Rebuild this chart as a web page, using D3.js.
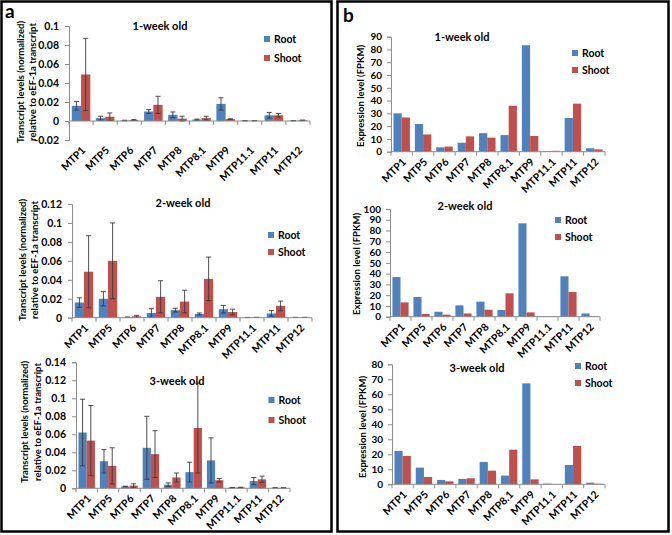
<!DOCTYPE html>
<html><head><meta charset="utf-8">
<script src="https://cdn.jsdelivr.net/npm/d3@7"></script>
<style>
body{margin:0;background:#fff}
svg{display:block}
text{font-family:Lato,"Liberation Sans",sans-serif}
</style>
</head><body>
<svg id="c" width="672" height="535"></svg>
<script>
// ---------- data ----------
const categories = ["MTP1","MTP5","MTP6","MTP7","MTP8","MTP8.1","MTP9","MTP11.1","MTP11","MTP12"];
const seriesNames = ["Root","Shoot"];
const ageTitles = ["1-week old","2-week old","3-week old"];

// (a) qRT-PCR transcript levels
const qpcrRoot1     = [0.016,0.003,0.0005,0.010,0.0065,0.0015,0.018,0.0003,0.006,0.0003];
const qpcrRootErr1  = [0.0045,0.002,0.0003,0.002,0.003,0.0005,0.0065,0.0002,0.003,0.0002];
const qpcrShoot1    = [0.049,0.0045,0.001,0.017,0.0025,0.003,0.002,0.0003,0.006,0.0007];
const qpcrShootErr1 = [0.038,0.004,0.0005,0.009,0.0025,0.002,0.0003,0.0002,0.002,0.0003];

const qpcrRoot2     = [0.016,0.020,0.0005,0.005,0.008,0.004,0.009,0.0002,0.0045,0.0003];
const qpcrRootErr2  = [0.005,0.0075,0.0002,0.0045,0.002,0.001,0.004,0.0001,0.003,0.0001];
const qpcrShoot2    = [0.0485,0.060,0.0015,0.022,0.017,0.041,0.006,0.0003,0.0125,0.0003];
const qpcrShootErr2 = [0.038,0.040,0.001,0.017,0.012,0.023,0.003,0.0001,0.005,0.0001];

const qpcrRoot3     = [0.062,0.030,0.002,0.045,0.004,0.018,0.031,0.0008,0.008,0.0005];
const qpcrRootErr3  = [0.037,0.013,0.0003,0.035,0.002,0.011,0.025,0.0002,0.004,0.0001];
const qpcrShoot3    = [0.053,0.025,0.003,0.038,0.012,0.067,0.009,0.001,0.010,0.0005];
const qpcrShootErr3 = [0.039,0.020,0.002,0.026,0.005,0.050,0.002,0.0002,0.0035,0.0001];

// (b) RNA-seq expression (FPKM)
const fpkmRoot1  = [30,21.7,3.4,7,14.5,13,83.3,0.5,26.4,2.7];
const fpkmShoot1 = [26.8,13.5,4,12,11,36,12.3,0.7,37.6,1.8];
const fpkmRoot2  = [36.8,18.3,4.6,10.5,14,6.2,86.7,0.5,37.5,3];
const fpkmShoot2 = [13.3,2.5,1.9,3,6.5,21.7,4,0.5,23,0.6];
const fpkmRoot3  = [22.2,11.1,2.9,3.6,14.9,5.8,67.3,0.5,12.9,1.1];
const fpkmShoot3 = [18.9,4.9,2,4,9.1,23.1,3.3,0.1,25.6,0.4];

// tick values
const ticksA1 = [-0.02,0,0.02,0.04,0.06,0.08,0.1];
const ticksA2 = [0,0.02,0.04,0.06,0.08,0.1,0.12];
const ticksA3 = [0,0.02,0.04,0.06,0.08,0.1,0.12,0.14];
const ticksB1 = [0,10,20,30,40,50,60,70,80,90];
const ticksB2 = [0,10,20,30,40,50,60,70,80,90,100];
const ticksB3 = [0,10,20,30,40,50,60,70,80];

const yLabelA = ["Transcript  levels (normalized)","relative to eEF-1a transcript"];
const yLabelB = ["Expression level (FPKM)"];
const panelLetters = ["a","b"];

// ---------- styling / layout ----------
const colors = ["#4F81BD","#C0504D"];
const svg = d3.select("#c");

// frames
svg.append("rect").attr("x",1.5).attr("y",1.5).attr("width",330).attr("height",530)
  .attr("fill","none").attr("stroke","#000").attr("stroke-width",2.5);
svg.append("rect").attr("x",337.5).attr("y",1.5).attr("width",331).attr("height",530)
  .attr("fill","none").attr("stroke","#000").attr("stroke-width",2.5);
svg.append("text").attr("x",5).attr("y",18).text(panelLetters[0])
  .attr("font-size",19).attr("font-weight","bold");
svg.append("text").attr("x",343).attr("y",22).text(panelLetters[1])
  .attr("font-size",19).attr("font-weight","bold");

const fmt = d => d===0 ? "0" : String(+d.toFixed(2));

const panels = [
  {x0:69,x1:310,yTop:26,yBot:140,dom:[-0.02,0.1],ticks:ticksA1,root:qpcrRoot1,shoot:qpcrShoot1,rErr:qpcrRootErr1,sErr:qpcrShootErr1,
   title:ageTitles[0],tx:160,ty:30,lx:267,ly:39,lgap:19,ylab:yLabelA,ylx:[24,36],yly:82,tfs:10.5,tpad:6},
  {x0:72,x1:312,yTop:204,yBot:317.7,dom:[0,0.12],ticks:ticksA2,root:qpcrRoot2,shoot:qpcrShoot2,rErr:qpcrRootErr2,sErr:qpcrShootErr2,
   title:ageTitles[1],tx:183,ty:207,lx:271,ly:235,lgap:17,ylab:yLabelA,ylx:[26,38],yly:260,tfs:10.5,tpad:6},
  {x0:76,x1:290,yTop:362.3,yBot:488.3,dom:[0,0.14],ticks:ticksA3,root:qpcrRoot3,shoot:qpcrShoot3,rErr:qpcrRootErr3,sErr:qpcrShootErr3,
   title:ageTitles[2],tx:177,ty:385,lx:271.5,ly:400,lgap:20,ylab:yLabelA,ylx:[28,40.5],yly:422,tfs:10.5,tpad:6},
  {x0:391,x1:605,yTop:36.7,yBot:151.7,dom:[0,90],ticks:ticksB1,root:fpkmRoot1,shoot:fpkmShoot1,
   title:ageTitles[0],tx:462,ty:41,lx:575,ly:53,lgap:17,ylab:yLabelB,ylx:[364],yly:96,tfs:10,tpad:5},
  {x0:390,x1:600,yTop:209,yBot:316.7,dom:[0,100],ticks:ticksB2,root:fpkmRoot2,shoot:fpkmShoot2,
   title:ageTitles[1],tx:465,ty:210,lx:558,ly:220,lgap:17,ylab:yLabelB,ylx:[360],yly:264,tfs:10,tpad:5},
  {x0:392,x1:605,yTop:364.3,yBot:484.3,dom:[0,80],ticks:ticksB3,root:fpkmRoot3,shoot:fpkmShoot3,
   title:ageTitles[2],tx:477,ty:372,lx:578,ly:366,lgap:17,ylab:yLabelB,ylx:[366],yly:427,tfs:10,tpad:5}
];

panels.forEach(p => {
  const g = svg.append("g");
  const x = d3.scaleBand().domain(categories).range([p.x0,p.x1]).paddingInner(0).paddingOuter(0);
  const xs = d3.scaleBand().domain(seriesNames).range([0,x.bandwidth()]).paddingInner(0).paddingOuter(0.3);
  const y = d3.scaleLinear().domain(p.dom).range([p.yBot,p.yTop]);
  const y0 = y(0);

  // y axis
  const ya = g.append("g").attr("transform",`translate(${p.x0},0)`)
    .call(d3.axisLeft(y).tickValues(p.ticks).tickFormat(fmt).tickSize(4).tickPadding(p.tpad));
  ya.select(".domain").attr("stroke","#8c8c8c");
  ya.selectAll(".tick line").attr("stroke","#8c8c8c");
  ya.selectAll(".tick text").attr("font-size",p.tfs).attr("font-weight","bold").attr("fill","#000")
    .attr("font-family","Lato");

  // bars
  const rows = categories.map((c,i)=>({c, vals:[
    {s:"Root",v:p.root[i],e:p.rErr?p.rErr[i]:null},
    {s:"Shoot",v:p.shoot[i],e:p.sErr?p.sErr[i]:null}]}));
  const cg = g.selectAll(".cat").data(rows).join("g").attr("transform",d=>`translate(${x(d.c)},0)`);
  cg.selectAll("rect").data(d=>d.vals).join("rect")
    .attr("x",d=>xs(d.s)).attr("width",xs.bandwidth())
    .attr("y",d=>Math.min(y(d.v),y0)).attr("height",d=>Math.abs(y0-y(d.v)))
    .attr("fill",(d,i)=>colors[i]);

  // error bars
  if (p.rErr) {
    const eb = cg.selectAll(".eb").data(d=>d.vals).join("g").attr("class","eb")
      .attr("stroke","#3a3a3a").attr("stroke-width",0.9);
    eb.append("line").attr("x1",d=>xs(d.s)+xs.bandwidth()/2).attr("x2",d=>xs(d.s)+xs.bandwidth()/2)
      .attr("y1",d=>y(d.v+d.e)).attr("y2",d=>y(Math.max(d.v-d.e,0)));
    eb.append("line").attr("x1",d=>xs(d.s)+xs.bandwidth()/2-2.5).attr("x2",d=>xs(d.s)+xs.bandwidth()/2+2.5)
      .attr("y1",d=>y(d.v+d.e)).attr("y2",d=>y(d.v+d.e));
    eb.append("line").attr("x1",d=>xs(d.s)+xs.bandwidth()/2-2.5).attr("x2",d=>xs(d.s)+xs.bandwidth()/2+2.5)
      .attr("y1",d=>y(Math.max(d.v-d.e,0))).attr("y2",d=>y(Math.max(d.v-d.e,0)));
  }

  // x axis line at zero with ticks at category boundaries
  g.append("line").attr("x1",p.x0).attr("x2",p.x1).attr("y1",y0).attr("y2",y0).attr("stroke","#8c8c8c");
  g.selectAll(".xt").data(categories.concat(["_end"])).join("line")
    .attr("x1",(d,i)=>p.x0+i*x.bandwidth()).attr("x2",(d,i)=>p.x0+i*x.bandwidth())
    .attr("y1",y0).attr("y2",y0+4).attr("stroke","#8c8c8c");

  // rotated category labels
  g.selectAll(".xl").data(categories).join("text")
    .attr("text-anchor","end").attr("font-size",10.5).attr("font-weight","bold")
    .attr("transform",d=>`translate(${x(d)+x.bandwidth()/2+5},${p.yBot+11}) rotate(-45)`)
    .text(d=>d);

  // title
  g.append("text").attr("x",p.tx).attr("y",p.ty).attr("text-anchor","middle")
    .attr("font-size",11).attr("font-weight","bold").text(p.title);

  // legend
  seriesNames.forEach((s,i)=>{
    g.append("rect").attr("x",p.lx-3).attr("y",p.ly+i*p.lgap-3).attr("width",6).attr("height",6).attr("fill",colors[i]);
    g.append("text").attr("x",p.lx+7).attr("y",p.ly+i*p.lgap+3.5).attr("font-size",10.5)
      .attr("font-weight","bold").text(s);
  });

  // y label
  p.ylab.forEach((t,i)=>{
    g.append("text").attr("transform",`translate(${p.ylx[i]},${p.yly}) rotate(-90)`)
      .attr("text-anchor","middle").attr("font-size",9.5).attr("font-weight","bold").text(t);
  });
});
</script>
</body></html>
